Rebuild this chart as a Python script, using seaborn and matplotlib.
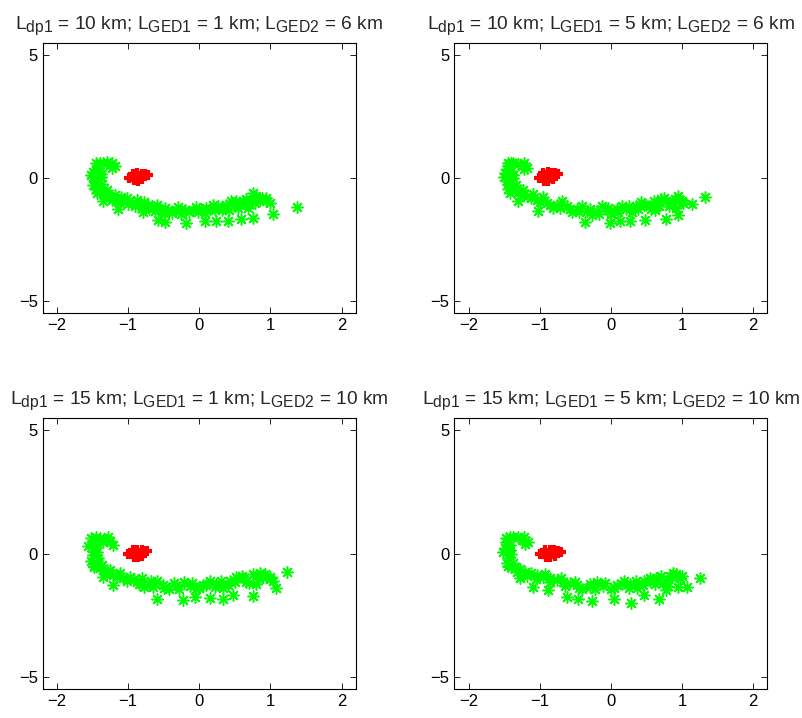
import numpy as np
import pandas as pd
import matplotlib
matplotlib.use("Agg")
import matplotlib.pyplot as plt
import matplotlib._mathtext as mathtext_internal
import seaborn as sns

# --- data ---
titles = [
    r"L$_{dp1}$ = 10 km; L$_{GED1}$ = 1 km; L$_{GED2}$ = 6 km",
    r"L$_{dp1}$ = 10 km; L$_{GED1}$ = 5 km; L$_{GED2}$ = 6 km",
    r"L$_{dp1}$ = 15 km; L$_{GED1}$ = 1 km; L$_{GED2}$ = 10 km",
    r"L$_{dp1}$ = 15 km; L$_{GED1}$ = 5 km; L$_{GED2}$ = 10 km",
]

# top-left
green_x_tl = [-1.35, -1.26, -1.19, -1.42, -1.49, -1.49, -1.47, -1.42, -1.35, -1.26, -1.16, -1.07,
              -0.95, -0.84, -0.72, -0.67, -0.55, -0.44, -0.32, -0.20, -0.09, 0.03, 0.15, 0.27,
              0.38, 0.50, 0.62, 0.73, 0.85, 0.94, 0.99,
              -1.40, -1.38, -1.36, -1.30, -1.18, -1.02, -0.88, -0.80, -0.60, -0.50, -0.30, -0.25,
              -0.05, 0.08, 0.20, 0.32, 0.45, 0.55, 0.70, 0.80,
              -1.45, -1.30, -1.22, -1.52, -1.44, -1.50, -1.40, -1.30, -1.22, -1.10, -1.00, -0.90,
              -0.78, -0.70, -0.62, -0.48, -0.38, -0.26, -0.14, -0.02, 0.10, 0.22, 0.33, 0.42,
              0.52, 0.58, 0.66, 0.78, 0.88, 0.68,
              -1.40, -1.45, -1.45, -1.44, -1.22, -1.38,
              -1.35, -1.14, -0.79, -0.58, -0.48, -0.18, 0.08, 0.24, 0.41, 0.59, 0.76, 1.04,
              1.37, 0.94, 0.76]
green_y_tl = [0.62, 0.55, 0.48, 0.50, 0.25, 0.05, -0.13, -0.40, -0.60, -0.77, -0.88, -0.94,
              -1.01, -1.04, -1.08, -1.15, -1.28, -1.31, -1.31, -1.31, -1.31, -1.28, -1.26, -1.15,
              -1.11, -1.04, -0.94, -0.88, -0.91, -0.94, -1.01,
              0.30, 0.05, -0.25, -0.50, -0.70, -0.80, -0.90, -1.18, -1.10, -1.42, -1.18, -1.45,
              -1.17, -1.42, -1.08, -1.32, -0.95, -1.20, -1.05, -0.75,
              0.60, 0.65, 0.42, 0.12, -0.05, -0.30, -0.55, -0.68, -0.90, -0.78, -1.05, -1.12,
              -0.98, -1.25, -1.35, -1.20, -1.42, -1.25, -1.40, -1.38, -1.20, -1.30, -1.22, -1.30,
              -0.95, -1.10, -0.85, -1.00, -0.82, -1.22,
              0.62, 0.35, -0.45, -0.62, 0.62, 0.15,
              -0.94, -1.28, -1.39, -1.69, -1.80, -1.83, -1.76, -1.76, -1.73, -1.65, -1.62, -1.45,
              -1.19, -0.80, -0.62]
red_x_tl = [-0.93, -0.87, -0.81, -0.93, -0.87, -0.81, -0.92, -0.86, -0.80, -0.99, -0.72, -0.76]
red_y_tl = [0.18, 0.20, 0.18, 0.05, 0.05, 0.08, -0.08, -0.10, -0.05, 0.00, 0.12, 0.15]

# top-right
green_x_tr = [-1.37, -1.25, -1.18, -1.44, -1.49, -1.46, -1.39, -1.30, -1.18, -1.04, -0.90, -0.76,
              -0.62, -0.48, -0.34, -0.20, -0.06, 0.08, 0.22, 0.36, 0.50, 0.64, 0.78, 0.90, 1.00,
              -1.40, -1.38, -1.34, -1.24, -1.10, -0.96, -0.82, -0.68, -0.55, -0.40, -0.27, -0.12,
              0.00, 0.15, 0.30, 0.43, 0.57, 0.70, 0.82,
              -1.45, -1.30, -1.22, -1.50, -1.44, -1.35, -1.24, -1.12, -1.00, -0.86, -0.72, -0.58,
              -0.45, -0.30, -0.16, -0.04, 0.10, 0.25, 0.38, 0.46, 0.60, 0.68, 0.75, 0.86, 0.92, 0.62,
              -1.40, -1.46, -1.44, -1.42, -1.22, -1.38,
              -1.30, -1.02, -0.36, -0.01, 0.13, 0.27, 0.48, 0.78, 0.95, 1.02, 1.14, 1.32, 0.95]
green_y_tr = [0.62, 0.48, 0.41, 0.48, 0.21, -0.13, -0.40, -0.60, -0.74, -0.88, -1.01, -1.08,
              -1.15, -1.28, -1.35, -1.35, -1.31, -1.28, -1.26, -1.15, -1.08, -1.01, -0.94, -0.85, -0.94,
              0.30, 0.00, -0.28, -0.50, -0.64, -0.78, -1.20, -0.95, -1.40, -1.15, -1.50, -1.15,
              -1.48, -1.12, -1.40, -0.98, -1.25, -0.85, -1.12,
              0.62, 0.58, 0.38, 0.05, -0.25, -0.50, -0.70, -0.82, -0.98, -1.10, -1.22, -1.25,
              -1.38, -1.25, -1.45, -1.22, -1.38, -1.15, -1.28, -1.10, -0.95, -1.12, -0.80, -0.98, -1.20, -1.30,
              0.62, 0.35, -0.45, -0.60, 0.60, 0.12,
              -0.94, -1.35, -1.80, -1.83, -1.76, -1.73, -1.69, -1.65, -1.49, -1.01, -1.04, -0.77, -0.74]
red_x_tr = [-0.95, -0.89, -0.83, -0.95, -0.89, -0.83, -0.94, -0.88, -0.82, -1.01, -0.74, -0.78]
red_y_tr = [0.20, 0.23, 0.20, 0.05, 0.08, 0.10, -0.10, -0.12, -0.05, 0.00, 0.17, 0.20]

# bottom-left
green_x_bl = [-1.40, -1.30, -1.21, -1.50, -1.56, -1.49, -1.44, -1.35, -1.21, -1.07, -0.88, -0.70,
              -0.51, -0.32, -0.13, 0.05, 0.24, 0.43, 0.62, 0.80, 0.94,
              -1.45, -1.42, -1.36, -1.25, -1.12, -0.98, -0.80, -0.78, -0.60, -0.42, -0.22, -0.04,
              0.15, 0.33, 0.52, 0.70, 0.86, 1.00,
              -1.52, -1.35, -1.25, -1.50, -1.52, -1.40, -1.30, -1.16, -1.02, -0.92, -0.84, -0.68,
              -0.65, -0.50, -0.35, -0.28, -0.10, 0.00, 0.10, 0.22, 0.30, 0.40, 0.50, 0.60, 0.66,
              0.76, 0.84, 0.92, 1.00, 0.80,
              -1.45, -1.50, -1.48, -1.48, -1.28, -1.44,
              -1.35, -1.21, -0.60, -0.23, -0.06, 0.15, 0.34, 0.48, 0.76, 1.08, 1.23, 1.04]
green_y_bl = [0.62, 0.55, 0.35, 0.50, 0.30, -0.06, -0.40, -0.67, -0.88, -1.01, -1.15, -1.22,
              -1.28, -1.31, -1.31, -1.28, -1.22, -1.12, -1.01, -0.92, -0.94,
              0.25, -0.20, -0.45, -0.68, -0.80, -0.95, -1.00, -1.35, -1.10, -1.45, -1.15, -1.45,
              -1.10, -1.38, -0.95, -1.20, -0.80, -1.05,
              0.62, 0.45, 0.50, 0.10, -0.30, -0.60, -0.80, -0.95, -1.12, -1.02, -1.25, -1.10,
              -1.35, -1.40, -1.20, -1.45, -1.20, -1.40, -1.28, -1.35, -1.10, -1.28, -1.15, -0.90, -1.15,
              -0.85, -1.05, -0.85, -0.95, -1.25,
              0.68, 0.45, -0.50, -0.55, 0.68, 0.05,
              -0.94, -1.28, -1.83, -1.89, -1.76, -1.80, -1.83, -1.69, -1.73, -1.39, -0.77, -1.12]
red_x_bl = [-0.93, -0.87, -0.81, -0.93, -0.87, -0.81, -0.92, -0.86, -0.80, -1.00, -0.73, -0.77]
red_y_bl = [0.13, 0.16, 0.13, 0.00, 0.02, 0.04, -0.13, -0.15, -0.10, -0.03, 0.10, 0.12]

# bottom-right
green_x_br = [-1.37, -1.25, -1.16, -1.47, -1.49, -1.44, -1.35, -1.21, -1.04, -0.85, -0.67, -0.48,
              -0.29, -0.11, 0.08, 0.27, 0.46, 0.64, 0.83, 0.97,
              -1.42, -1.40, -1.38, -1.28, -1.12, -0.95, -0.76, -0.58, -0.40, -0.20, 0.00, 0.18,
              0.37, 0.55, 0.74, 0.88,
              -1.48, -1.30, -1.20, -1.52, -1.46, -1.32, -1.18, -1.05, -0.92, -0.85, -0.70, -0.65,
              -0.50, -0.45, -0.30, -0.22, -0.08, 0.05, 0.15, 0.25, 0.35, 0.45, 0.55, 0.62, 0.70,
              0.78, 0.86, 0.92, 1.00, 0.80,
              -1.42, -1.46, -1.44, -1.40, -1.22, -1.42,
              -1.28, -1.09, -0.88, -0.62, -0.46, -0.27, 0.04, 0.29, 0.46, 0.67, 0.78, 1.07, 1.25, 0.95]
green_y_br = [0.65, 0.55, 0.48, 0.45, 0.21, -0.20, -0.54, -0.74, -0.88, -1.01, -1.15, -1.28,
              -1.35, -1.31, -1.28, -1.22, -1.12, -1.01, -0.92, -1.01,
              0.35, 0.00, -0.38, -0.62, -0.80, -0.95, -1.08, -1.20, -1.45, -1.15, -1.45, -1.12,
              -1.38, -0.98, -1.20, -0.80,
              0.62, 0.68, 0.40, 0.05, -0.40, -0.75, -0.90, -1.02, -0.85, -1.15, -1.00, -1.30,
              -1.15, -1.40, -1.22, -1.45, -1.20, -1.38, -1.25, -1.38, -1.10, -1.28, -1.10, -1.25, -0.92,
              -1.10, -0.95, -0.82, -0.90, -1.32,
              0.68, 0.40, -0.50, -0.55, 0.65, 0.15,
              -1.01, -1.35, -1.49, -1.76, -1.83, -1.94, -1.85, -1.99, -1.69, -1.85, -1.49, -1.35, -0.99, -1.35]
red_x_br = [-0.92, -0.86, -0.80, -0.92, -0.86, -0.80, -0.91, -0.85, -0.79, -0.99, -0.70, -0.74]
red_y_br = [0.13, 0.16, 0.13, 0.00, 0.02, 0.04, -0.13, -0.15, -0.10, -0.03, 0.07, 0.10]

panels = [
    (green_x_tl, green_y_tl, red_x_tl, red_y_tl),
    (green_x_tr, green_y_tr, red_x_tr, red_y_tr),
    (green_x_bl, green_y_bl, red_x_bl, red_y_bl),
    (green_x_br, green_y_br, red_x_br, red_y_br),
]

# --- style ---
sns.set_style("ticks", {"xtick.direction": "in", "ytick.direction": "in"})
plt.rcParams["font.family"] = ["Liberation Sans", "DejaVu Sans"]
plt.rcParams["mathtext.default"] = "regular"
plt.rcParams["axes.linewidth"] = 0.8
# bigger subscripts, closer to the original titles
mathtext_internal.SHRINK_FACTOR = 0.82

fig = plt.figure(figsize=(8.03, 7.18), dpi=100)
boxes = [
    [0.0532, 0.564, 0.3898, 0.376],
    [0.5658, 0.564, 0.3898, 0.376],
    [0.0532, 0.0404, 0.3898, 0.3774],
    [0.5658, 0.0404, 0.3898, 0.3774],
]

for box, title, (gx, gy, rx, ry) in zip(boxes, titles, panels):
    ax = fig.add_axes(box)
    sns.scatterplot(x=gx, y=gy, ax=ax, marker=(8, 2, 0), s=66,
                    color="#00ff00", linewidth=1.1, legend=False, zorder=2)
    sns.scatterplot(x=rx, y=ry, ax=ax, marker="+", s=45,
                    color="#ff0000", linewidth=3.0, legend=False, zorder=3)
    ax.set_xlim(-2.2, 2.2)
    ax.set_ylim(-5.5, 5.5)
    ax.set_xticks([-2, -1, 0, 1, 2])
    ax.set_yticks([-5, 0, 5])
    ax.tick_params(top=True, right=True, direction="in", length=4, width=0.6,
                   labelsize=12, colors="black")
    for sp in ax.spines.values():
        sp.set_visible(True)
        sp.set_color("black")
    ax.set_title(title, fontsize=13.8, pad=10)

plt.savefig("out.png", dpi=100, facecolor="white")
plt.close()
